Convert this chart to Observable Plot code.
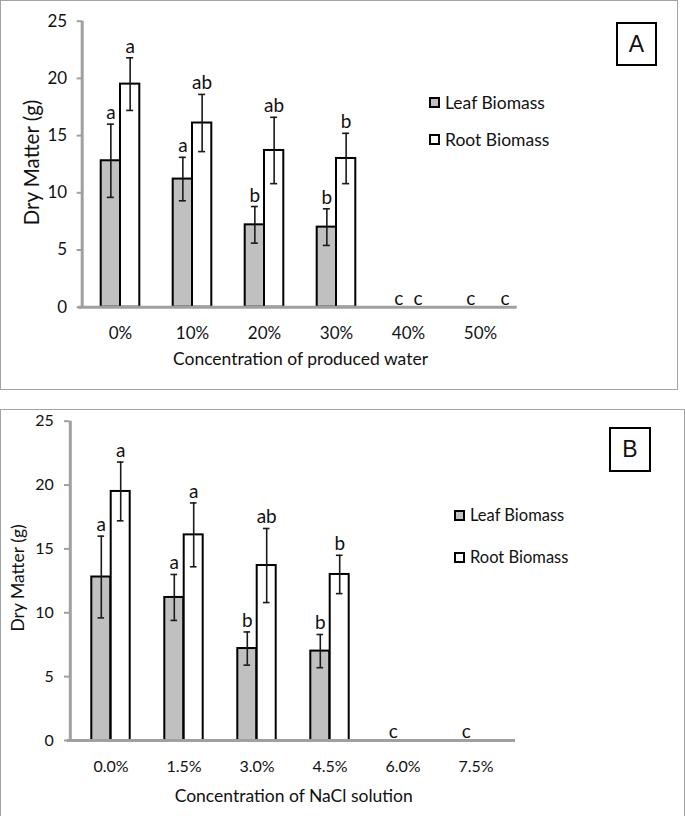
<!DOCTYPE html>
<html><head><meta charset="utf-8">
<script src="https://cdn.jsdelivr.net/npm/d3@7"></script>
<script src="https://cdn.jsdelivr.net/npm/@observablehq/plot@0.6"></script>
<style>
body{margin:0;background:#fff;font-family:Lato,sans-serif;}
#root{position:relative;width:685px;height:816px;overflow:hidden;background:#fff;}
.panel{position:absolute;box-sizing:border-box;border:1.5px solid #a3a3a3;}
.plotwrap{position:absolute;left:0;}
.lab{position:absolute;box-sizing:border-box;border:2px solid #000;display:flex;align-items:center;justify-content:center;color:#111;font-family:"Liberation Sans",sans-serif;}
.leg{position:absolute;display:flex;align-items:center;white-space:nowrap;color:#111;font-family:Lato,sans-serif;}
.sw{box-sizing:border-box;width:11px;height:11px;border:2px solid #000;margin-right:5px;flex:none;}
</style></head><body><div id="root"></div>
<script>
// ---- data ----
const categoriesA = ["0%", "10%", "20%", "30%", "40%", "50%"];
const categoriesB = ["0.0%", "1.5%", "3.0%", "4.5%", "6.0%", "7.5%"];
const leafA = [12.8, 11.2, 7.2, 7.0, 0, 0];
const rootA = [19.5, 16.1, 13.7, 13.0, 0, 0];
const leafErrA = [3.2, 1.9, 1.6, 1.6, null, null];
const rootErrA = [2.3, 2.5, 2.9, 2.2, null, null];
const leafLettersA = ["a", "a", "b", "b", "c", "c"];
const rootLettersA = ["a", "ab", "ab", "b", "c", "c"];
const leafB = [12.8, 11.2, 7.2, 7.0, 0, 0];
const rootB = [19.5, 16.1, 13.7, 13.0, 0, 0];
const leafErrB = [3.2, 1.8, 1.3, 1.3, null, null];
const rootErrB = [2.3, 2.5, 2.9, 1.5, null, null];
const leafLettersB = ["a", "a", "b", "b", "c", "c"];
const rootLettersB = ["a", "a", "ab", "b", "", ""];
const yTicks = [0, 5, 10, 15, 20, 25];
const seriesNames = ["Leaf Biomass", "Root Biomass"];
const seriesFills = ["#c0c0c0", "#ffffff"];

const GRAY = "#a0a0a0";
const root = document.getElementById("root");

function panel(cfg) {
  const rows = cfg.cats.map((c, i) => ({
    cat: c, leaf: cfg.leaf[i], root: cfg.root[i],
    le: cfg.leafErr[i], re: cfg.rootErr[i],
    ll: cfg.leafLetters[i], rl: cfg.rootLetters[i], i
  }));
  const step = (cfg.width - cfg.ml - cfg.mr) / cfg.cats.length;
  const half = step / 2, bw = cfg.barW, capW = 3.5;
  const errL = rows.filter(d => d.le != null);
  const errR = rows.filter(d => d.re != null);
  const zeroL = rows.filter(d => d.le == null && d.ll);
  const zeroR = rows.filter(d => d.re == null && d.rl);
  const last = cfg.cats.length - 1;
  const errStyle = {stroke: "#1a1a1a", strokeWidth: 1.6};
  const letterStyle = {lineAnchor: "bottom", fontSize: cfg.letterSize, fill: "#111"};
  const marks = [
    Plot.barY(rows.filter(d => d.leaf > 0), {x: "cat", y: "leaf", fill: seriesFills[0], stroke: "#000", strokeWidth: 2, insetLeft: half - bw, insetRight: half}),
    Plot.barY(rows.filter(d => d.root > 0), {x: "cat", y: "root", fill: seriesFills[1], stroke: "#000", strokeWidth: 2, insetLeft: half, insetRight: half - bw}),
    Plot.ruleX(errL, {x: "cat", y1: d => d.leaf - d.le, y2: d => d.leaf + d.le, dx: -bw / 2, ...errStyle}),
    Plot.ruleX(errR, {x: "cat", y1: d => d.root - d.re, y2: d => d.root + d.re, dx: bw / 2, ...errStyle}),
    Plot.tickY(errL, {x: "cat", y: d => d.leaf + d.le, insetLeft: half - bw / 2 - capW, insetRight: half + bw / 2 - capW, ...errStyle}),
    Plot.tickY(errL, {x: "cat", y: d => d.leaf - d.le, insetLeft: half - bw / 2 - capW, insetRight: half + bw / 2 - capW, ...errStyle}),
    Plot.tickY(errR, {x: "cat", y: d => d.root + d.re, insetLeft: half + bw / 2 - capW, insetRight: half - bw / 2 - capW, ...errStyle}),
    Plot.tickY(errR, {x: "cat", y: d => d.root - d.re, insetLeft: half + bw / 2 - capW, insetRight: half - bw / 2 - capW, ...errStyle}),
    Plot.text(errL, {x: "cat", y: d => d.leaf + d.le, text: "ll", dx: -bw / 2, dy: -5, ...letterStyle}),
    Plot.text(errR, {x: "cat", y: d => d.root + d.re, text: "rl", dx: bw / 2, dy: -5, ...letterStyle}),
    Plot.text(zeroL, {x: "cat", y: 0, text: "ll", dx: -bw / 2, dy: -2.5, ...letterStyle}),
    Plot.text(zeroR.filter(d => d.i !== last), {x: "cat", y: 0, text: "rl", dx: bw / 2, dy: -2.5, ...letterStyle}),
    Plot.text(zeroR.filter(d => d.i === last), {x: "cat", y: 0, text: "rl", dx: bw / 2 + cfg.lastRootShift, dy: -2.5, ...letterStyle}),
    Plot.ruleX([cfg.cats[0]], {x: d => d, dx: -half + cfg.axisDx, stroke: GRAY, strokeWidth: 3}),
    Plot.ruleY([0], {stroke: GRAY, strokeWidth: 3, insetLeft: -cfg.xLineL, insetRight: -cfg.xLineR}),
    Plot.axisX({tickSize: 0, tickPadding: cfg.xPad, fontSize: cfg.tickFont, label: null, fill: "#111"}),
    Plot.axisY({ticks: yTicks, tickSize: 5, tickPadding: cfg.yPad, dx: cfg.axisDx, stroke: GRAY, strokeWidth: 2, fontSize: cfg.tickFont, label: null, fill: "#111"}),
    Plot.text([cfg.xTitle], {text: d => d, frameAnchor: "bottom", textAnchor: "middle", lineAnchor: "middle", dy: cfg.xTitleDy, fontSize: cfg.xTitleFont, fill: "#111"}),
    Plot.text([cfg.yTitle], {text: d => d, frameAnchor: "left", textAnchor: "middle", lineAnchor: "middle", rotate: -90, dx: cfg.yTitleDx, dy: cfg.yTitleDy, fontSize: cfg.yTitleFont, fill: "#111"})
  ];
  const svg = Plot.plot({
    width: cfg.width, height: cfg.height,
    marginTop: cfg.mt, marginBottom: cfg.mb, marginLeft: cfg.ml, marginRight: cfg.mr,
    style: {background: "transparent", overflow: "visible", fontFamily: "Lato, sans-serif", color: "#111"},
    x: {domain: cfg.cats, padding: 0, label: null, axis: null},
    y: {domain: [0, 25], label: null, axis: null},
    marks
  });
  // border
  const border = document.createElement("div");
  border.className = "panel";
  Object.assign(border.style, cfg.border);
  root.appendChild(border);
  const wrap = document.createElement("div");
  wrap.className = "plotwrap";
  wrap.style.top = cfg.top + "px";
  wrap.appendChild(svg);
  root.appendChild(wrap);
  // panel label
  const lab = document.createElement("div");
  lab.className = "lab";
  Object.assign(lab.style, cfg.labBox);
  lab.textContent = cfg.label;
  root.appendChild(lab);
  // legend
  seriesNames.forEach((name, k) => {
    const it = document.createElement("div");
    it.className = "leg";
    it.style.left = cfg.legend.left + "px";
    it.style.top = (cfg.legend.centers[k] - 12) + "px";
    it.style.height = "24px";
    it.style.fontSize = cfg.legend.font + "px";
    const sw = document.createElement("div");
    sw.className = "sw";
    sw.style.background = seriesFills[k];
    const tx = document.createElement("span");
    tx.textContent = name;
    it.appendChild(sw); it.appendChild(tx);
    root.appendChild(it);
  });
}

panel({
  cats: categoriesA, leaf: leafA, root: rootA, leafErr: leafErrA, rootErr: rootErrA,
  leafLetters: leafLettersA, rootLetters: rootLettersA,
  width: 685, height: 390, top: 0, ml: 84, mr: 169, mt: 20.7, mb: 83.3,
  barW: 19.3, axisDx: -2.3, yPad: 10, xPad: 19.6, xLineL: 6, xLineR: 0.7,
  tickFont: 17, letterSize: 19, lastRootShift: 15,
  xTitle: "Concentration of produced water", xTitleDy: 52.6, xTitleFont: 17.5,
  yTitle: "Dry Matter (g)", yTitleDx: -52.3, yTitleDy: -1.7, yTitleFont: 20.5,
  border: {left: "0px", top: "-0.5px", width: "678px", height: "390px"},
  label: "A", labBox: {left: "616px", top: "22px", width: "41px", height: "44px", fontSize: "23px"},
  legend: {left: 429, centers: [102, 139], font: 17.5}
});

panel({
  cats: categoriesB, leaf: leafB, root: rootB, leafErr: leafErrB, rootErr: rootErrB,
  leafLetters: leafLettersB, rootLetters: rootLettersB,
  width: 685, height: 416, top: 400, ml: 73, mr: 171.6, mt: 20.7, mb: 76,
  barW: 19.4, axisDx: -4, yPad: 10.7, xPad: 20.3, xLineL: 6.3, xLineR: 1.6,
  tickFont: 16, letterSize: 19, lastRootShift: 0,
  xTitle: "Concentration of NaCl solution", xTitleDy: 56, xTitleFont: 17.5,
  yTitle: "Dry Matter (g)", yTitleDx: -54.7, yTitleDy: -2.9, yTitleFont: 17.5,
  border: {left: "0px", top: "408.5px", width: "685px", height: "408px"},
  label: "B", labBox: {left: "609px", top: "427px", width: "42px", height: "45px", fontSize: "23px"},
  legend: {left: 454, centers: [515, 557], font: 16.5}
});
</script></body></html>
